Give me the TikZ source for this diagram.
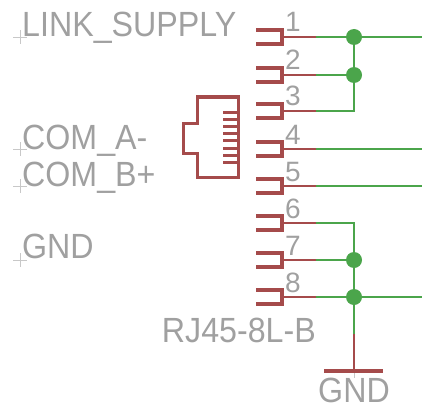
\documentclass[tikz,border=0pt]{standalone}
\usepackage{fontspec}
\setmainfont{Liberation Sans}
\definecolor{symred}{RGB}{165,75,75}
\definecolor{netgreen}{RGB}{75,165,75}
\definecolor{txtgray}{RGB}{160,160,160}
\definecolor{orggray}{RGB}{200,200,200}

\tikzset{
  pinbody/.style={symred, line width=4pt},
  pinline/.style={symred, line width=1.8pt},
  net/.style={netgreen, line width=2pt},
  icon/.style={symred, line width=3pt},
  lbl/.style={text=txtgray, inner sep=0pt, anchor=base west,
    font=\fontsize{35}{35}\selectfont, xscale=0.92, transform shape},
  pinnum/.style={text=txtgray, inner sep=0pt, anchor=base west,
    font=\fontsize{28}{28}\selectfont},
  origin/.style={orggray, line width=0.8pt},
}

\begin{document}
\begin{tikzpicture}[x=1pt, y=-1pt]
\useasboundingbox (0,0) rectangle (422,409);

% labels on the left
\foreach \y in {37,149,186,260}
  \draw[origin] (13,\y) -- (27,\y) (20,{\y-7}) -- (20,{\y+7});
\node[lbl] (supply) at (22,37) {LINK\_SUPPLY};
\node[lbl] (coma) at (22,149) {COM\_A-};
\node[lbl] (comb) at (22,186) {COM\_B+};
\node[lbl] (gndl) at (22,258) {GND};

% connector symbol
\draw[icon] (197,97) -- (238,97) -- (238,177) -- (197,177) -- (197,153)
  -- (183,153) -- (183,123) -- (197,123) -- cycle;
\foreach \t in {0,...,7}
  \draw[icon] (223,{112+7.2*\t}) -- (238,{112+7.2*\t});

% pins 1..8
\foreach \n/\y in {1/37,2/75,3/111,4/149,5/186,6/223,7/260,8/297} {
  \coordinate (pin\n) at (282,\y);
  \coordinate (end\n) at (316,\y);
  \draw[pinbody] (256,{\y-7}) -- (282,{\y-7}) -- (282,{\y+7}) -- (256,{\y+7});
  \draw[pinline] (pin\n) -- (end\n);
  \node[pinnum] (num\n) at (285,{\y-5}) {\n};
}
\node[lbl, anchor=base east] (part) at (316,342) {RJ45-8L-B};

% nets
\coordinate (j1) at (354,37);
\coordinate (j2) at (354,75);
\coordinate (j7) at (354,260);
\coordinate (j8) at (354,297);
\coordinate (r1) at (422,37);
\coordinate (r4) at (422,149);
\coordinate (r5) at (422,186);
\coordinate (r8) at (422,297);
\coordinate (gtop) at (354,334);
\coordinate (gnd) at (354,371);

\draw[net] (end1) -- (r1);
\draw[net] (end2) -- (j2);
\draw[net] (end3) -| (j1);
\draw[net] (end4) -- (r4);
\draw[net] (end5) -- (r5);
\draw[net] (end6) -| (j8);
\draw[net] (end7) -- (j7);
\draw[net] (end8) -- (r8);
\draw[net] (j8) -- (gtop);
\foreach \j in {j1,j2,j7,j8}
  \fill[netgreen] (\j) circle (8pt);

% ground symbol
\draw[origin] (gnd) -- ++(0,7);
\draw[pinline] (gtop) -- (gnd);
\draw[pinbody] (324,371) -- (383,371);
\node[lbl, anchor=base] (gndsym) at (354,402) {GND};
\end{tikzpicture}
\end{document}
